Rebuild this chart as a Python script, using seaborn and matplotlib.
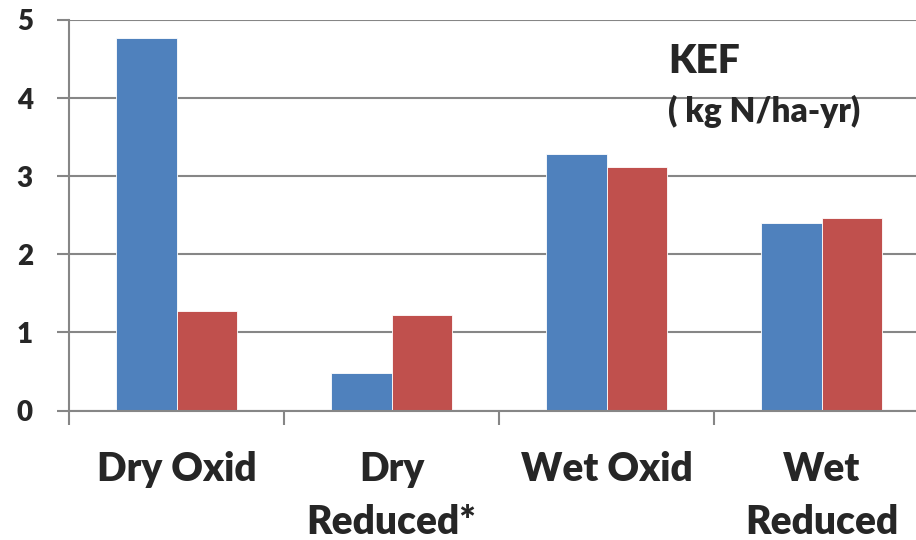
import matplotlib
matplotlib.use("Agg")
import matplotlib.pyplot as plt
import seaborn as sns
import pandas as pd

categories = ["Dry Oxid", "Dry\nReduced*", "Wet Oxid", "Wet\nReduced"]
series_names = ["Series 1", "Series 2"]
series1 = [4.77, 0.48, 3.28, 2.40]
series2 = [1.27, 1.22, 3.12, 2.46]
y_ticks = [0, 1, 2, 3, 4, 5]
colors = ["#4F81BD", "#C0504D"]

df = pd.DataFrame({
    "category": categories * 2,
    "series": [series_names[0]] * 4 + [series_names[1]] * 4,
    "value": series1 + series2,
})

sns.set_style("white")
plt.rcParams["font.family"] = ["Lato", "DejaVu Sans"]

W, H = 916, 540
fig = plt.figure(figsize=(W / 100, H / 100), dpi=100)
x0, x1 = 69, 916
y_top, y_zero = 20, 410.5
ax = fig.add_axes([x0 / W, (H - y_zero) / H, (x1 - x0) / W, (y_zero - y_top) / H])

sns.barplot(data=df, x="category", y="value", hue="series", order=categories,
            hue_order=series_names, palette=colors, width=0.567, gap=0,
            edgecolor="white", linewidth=0.6, legend=False, ax=ax, saturation=1)

ax.set_yticks(y_ticks)
ax.set_yticklabels([str(t) for t in y_ticks])
ax.yaxis.grid(True, color="#868686", linewidth=1.5)
ax.set_axisbelow(True)
ax.set_xlabel("")
ax.set_ylabel("")

for s in ["top", "right"]:
    ax.spines[s].set_visible(False)
ax.spines["left"].set_color("#868686")
ax.spines["left"].set_linewidth(1.5)
ax.spines["bottom"].set_color("#868686")
ax.spines["bottom"].set_linewidth(1.5)

# category boundaries carry the tick marks, labels sit at the centers
ax.set_xticks([i - 0.5 for i in range(5)], minor=False)
ax.set_xticklabels([""] * 5)
ax.set_xticks(range(len(categories)), minor=True)
ax.set_xticklabels(categories, minor=True, fontsize=28, fontweight="heavy",
                   linespacing=1.55, va="top")
ax.tick_params(axis="x", which="major", length=10, width=1.5, color="#868686",
               direction="out", bottom=True)
ax.tick_params(axis="x", which="minor", length=0, pad=29)
ax.tick_params(axis="y", length=9, width=1.5, color="#868686", direction="out",
               left=True, pad=17, labelsize=20)
for lbl in ax.get_yticklabels():
    lbl.set_fontweight("heavy")

# each category is 215 px wide; the last boundary falls past the figure edge
cat_w = 215.0
ax.set_xlim(-0.5, -0.5 + (x1 - x0) / cat_w)
ax.set_ylim(0, 5)

fig.text(668 / W, 1 - 43 / H, "KEF", fontsize=28, fontweight="heavy", va="top", ha="left")
fig.text(668 / W, 1 - 95 / H, "( kg N/ha-yr)", fontsize=24, fontweight="heavy", va="top", ha="left")

fig.savefig("out.png", dpi=100)
